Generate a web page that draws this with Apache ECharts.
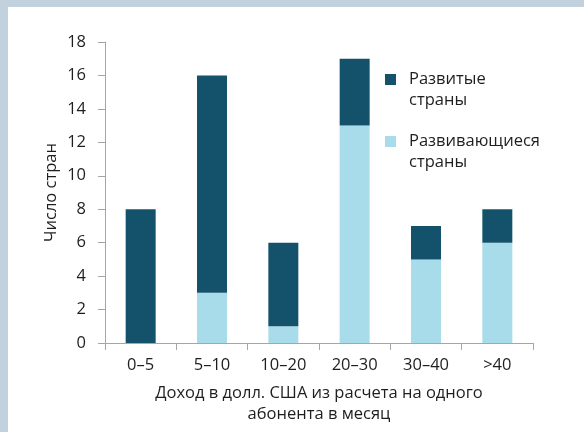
<!DOCTYPE html>
<html>
<head>
<meta charset="utf-8">
<script src="https://cdn.jsdelivr.net/npm/echarts@6/dist/echarts.min.js"></script>
<style>
body{
  margin: 0;
  background: #c1d1de;
}
#panel{
  position: absolute;
  left: 8px;
  top: 7px;
  right: 0;
  bottom: 0;
  background: #ffffff;
}
#chart{
  position: absolute;
  left: 0;
  top: 0;
  width: 584px;
  height: 432px;
}
</style>
</head>
<body>
<div id="panel"></div>
<div id="chart"></div>
<script>
var categories = ["0–5", "5–10", "10–20", "20–30", "30–40", ">40"];
var developing = [0, 3, 1, 13, 5, 6];   // light, bottom of stack
var developed = [8, 13, 5, 4, 2, 2];    // dark, top of stack
var yTicks = {min: 0, max: 18, interval: 2};

var darkColor = "#14526c";
var lightColor = "#a8dcea";
var textColor = "#1e1e1e";
var axisColor = "#a6a6a6";
var font = "Open Sans";
var fs = 16.5;

// leading empty line keeps the first text line level with the marker
function legendFormatter(name){
  return "\n" + name.replace(" ", "\n");
}

var legendText = {
  color: textColor,
  fontFamily: font,
  fontSize: fs,
  lineHeight: 21,
  padding: [0, 0, 0, 8]
};

var myChart = echarts.init(document.getElementById("chart"), null, {renderer: "canvas"});

var option = {
  animation: false,
  textStyle: {fontFamily: font},
  grid: {
    left: 105,
    right: 51,
    top: 42,
    bottom: 89,
    containLabel: false
  },
  legend: [
    {
      data: ["Развитые страны"],
      left: 385,
      top: 48,
      padding: 0,
      itemWidth: 11,
      itemHeight: 11,
      icon: "rect",
      formatter: legendFormatter,
      textStyle: legendText
    },
    {
      data: ["Развивающиеся страны"],
      left: 385,
      top: 110,
      padding: 0,
      itemWidth: 11,
      itemHeight: 11,
      icon: "rect",
      formatter: legendFormatter,
      textStyle: legendText
    }
  ],
  xAxis: {
    type: "category",
    data: categories,
    name: "Доход в долл. США из расчета на одного\nабонента в месяц",
    nameLocation: "middle",
    nameGap: 40,
    nameTextStyle: {
      color: textColor,
      fontFamily: font,
      fontSize: fs,
      lineHeight: 21
    },
    axisLine: {lineStyle: {color: axisColor, width: 1}},
    axisTick: {show: true, length: 7, lineStyle: {color: axisColor}},
    axisLabel: {
      color: textColor,
      fontFamily: font,
      fontSize: fs,
      margin: 14
    }
  },
  yAxis: {
    type: "value",
    min: yTicks.min,
    max: yTicks.max,
    interval: yTicks.interval,
    name: "Число стран",
    nameLocation: "middle",
    nameGap: 45,
    nameMoveOverlap: false,
    nameTextStyle: {
      color: textColor,
      fontFamily: font,
      fontSize: fs
    },
    splitLine: {show: false},
    axisLine: {show: true, lineStyle: {color: axisColor, width: 1}},
    axisTick: {show: true, length: 7, lineStyle: {color: axisColor}},
    axisLabel: {
      color: textColor,
      fontFamily: font,
      fontSize: fs,
      margin: 19
    }
  },
  series: [
    {
      name: "Развивающиеся страны",
      type: "bar",
      stack: "total",
      barWidth: 30,
      data: developing,
      itemStyle: {color: lightColor}
    },
    {
      name: "Развитые страны",
      type: "bar",
      stack: "total",
      barWidth: 30,
      data: developed,
      itemStyle: {color: darkColor}
    }
  ]
};

myChart.setOption(option);
</script>
</body>
</html>
